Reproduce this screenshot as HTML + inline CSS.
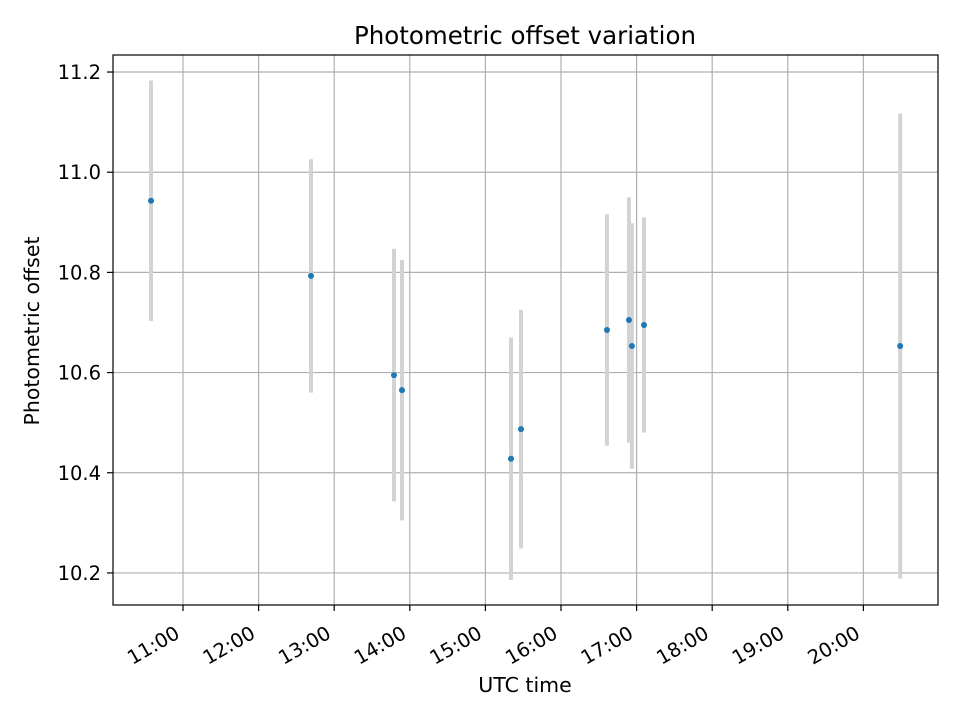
<!DOCTYPE html>
<html><head><meta charset="utf-8"><style>
body{margin:0;background:#fff;}
svg text{font-family:"DejaVu Sans","Liberation Sans",sans-serif;fill:#000;}
</style></head><body>
<svg id="chart" width="960" height="720" xmlns="http://www.w3.org/2000/svg">
<rect width="960" height="720" fill="#fff"/>
<text x="525" y="44" font-size="24.5" text-anchor="middle">Photometric offset variation</text>
<g id="grid"></g>
<g id="bars"></g>
<g id="pts"></g>
<rect x="113" y="55" width="825" height="550" fill="none" stroke="#000" stroke-width="1.2"/>
<g id="axes"></g>
<text x="525" y="692" font-size="20.5" text-anchor="middle">UTC time</text>
<text x="0" y="0" font-size="20.5" text-anchor="middle" transform="translate(39,331) rotate(-90)">Photometric offset</text>
</svg>
<script>
const times = [10.577,12.693,13.791,13.897,15.339,15.471,16.608,16.899,16.938,17.098,20.487];
const offsets = [10.943,10.793,10.595,10.565,10.428,10.487,10.685,10.705,10.653,10.695,10.653];
const errors = [0.24,0.233,0.252,0.26,0.242,0.238,0.231,0.245,0.245,0.215,0.464];
const xTicks = [11,12,13,14,15,16,17,18,19,20];
const xTickLabels = ["11:00","12:00","13:00","14:00","15:00","16:00","17:00","18:00","19:00","20:00"];
const yTicks = [10.2,10.4,10.6,10.8,11.0,11.2];
const yTickLabels = ["10.2","10.4","10.6","10.8","11.0","11.2"];

const X0=113,X1=938,Y0=55,Y1=605;
const xMin=10.074,xMax=20.987,yMin=10.136,yMax=11.234;
const sx=v=>X0+(v-xMin)/(xMax-xMin)*(X1-X0);
const sy=v=>Y1-(v-yMin)/(yMax-yMin)*(Y1-Y0);
const NS="http://www.w3.org/2000/svg";
function mk(tag,attrs,parent){const e=document.createElementNS(NS,tag);for(const k in attrs)e.setAttribute(k,attrs[k]);parent.appendChild(e);return e;}
const grid=document.getElementById('grid'),axes=document.getElementById('axes'),bars=document.getElementById('bars'),pts=document.getElementById('pts');
xTicks.forEach((t,i)=>{
  const x=sx(t);
  const g=mk('line',{x1:x,x2:x,y1:Y0,y2:Y1,stroke:'#b0b0b0','stroke-width':1.2},grid);
  
  
  const tk=mk('line',{x1:x,x2:x,y1:Y1,y2:Y1+6,stroke:'#000','stroke-width':1.2},axes);
  
  
  const tx=mk('text',{x:0,y:0,'font-size':19.5,'text-anchor':'end',transform:`translate(${x-2},${Y1+32}) rotate(-30)`},axes);
  tx.textContent=xTickLabels[i];
  
  
});
yTicks.forEach((t,i)=>{
  const y=sy(t);
  const g=mk('line',{x1:X0,x2:X1,y1:y,y2:y,stroke:'#b0b0b0','stroke-width':1.2},grid);
  
  
  const tk=mk('line',{x1:X0-6,x2:X0,y1:y,y2:y,stroke:'#000','stroke-width':1.2},axes);
  
  
  const tx=mk('text',{x:X0-12,y:y+7,'font-size':19.5,'text-anchor':'end'},axes);
  tx.textContent=yTickLabels[i];
  
  
});
times.forEach((t,i)=>{
  const x=sx(t);
  const b=mk('line',{x1:x,x2:x,y1:sy(offsets[i]+errors[i]),y2:sy(offsets[i]-errors[i]),stroke:'#d3d3d3','stroke-width':4},bars);
  
  
  const c=mk('circle',{cx:x,cy:sy(offsets[i]),r:3,fill:'#1f77b4'},pts);
  
  
});
</script>
</body></html>
